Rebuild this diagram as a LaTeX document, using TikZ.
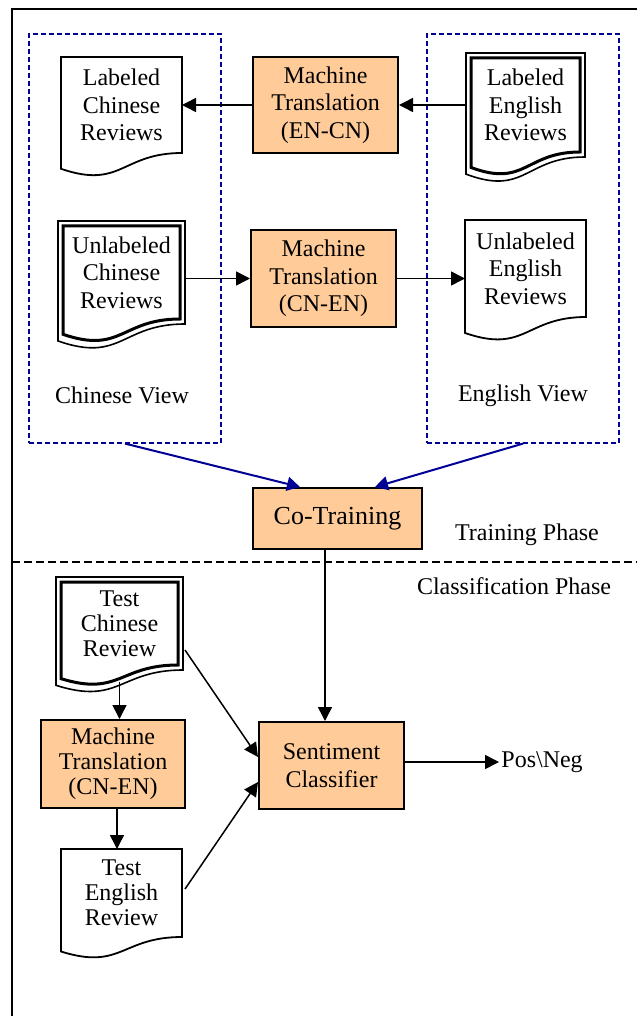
\documentclass[tikz,border=0pt]{standalone}
\usepackage{fontspec}
\setmainfont{Liberation Serif}
\usetikzlibrary{arrows.meta,calc}

\definecolor{boxfill}{RGB}{255,204,153}
\definecolor{viewblue}{RGB}{0,0,150}

% outline of a document sheet round a node, #2 = inset
\newcommand{\docline}[3]{%
  \draw[#3] let \p1=($(#1.north west)+(#2,#2)$), \p2=($(#1.south east)+(-#2,-#2)$),
      \n1={\y2-\y1} in
    (\p1) -- (\x2,\y1) -- (\p2)
    .. controls ({(\x1+\x2)/2},\y2) and ({(\x1+\x2)/2},{\y2+0.381*(\n1)}) .. (\x1,{\y2+0.1646*(\n1)})
    -- cycle;}

\tikzset{
  proc/.style={draw, line width=1pt, fill=boxfill, align=center, inner sep=0pt},
  doc/.style={align=center, inner sep=0pt, outer sep=0pt},
  tight/.style={font=\fontsize{12}{12.5}\selectfont},
  arr/.style={-{Triangle[length=7pt,width=7pt]}, line width=0.75pt},
  viewarr/.style={-{Triangle[length=6.5pt,width=7pt]}, line width=1pt, color=viewblue},
  viewbox/.style={draw=viewblue, dash pattern=on 2.5pt off 1.5pt, line width=0.6pt, inner sep=0pt},
  phaseline/.style={dash pattern=on 4pt off 2pt, line width=0.75pt},
}

\begin{document}
\begin{tikzpicture}[x=0.5pt, y=-0.5pt, font=\fontsize{12}{13.75}\selectfont]
  \useasboundingbox (0,0) rectangle (637,1016);

  \draw[line width=1pt] (637,9) -- (12,9) -- (12,1016);
  \draw[phaseline] (12,562) -- (637,562);

  % the two views
  \node[viewbox, minimum width=96pt, minimum height=204.5pt] (cnview) at (125,238.5) {};
  \node[viewbox, minimum width=96pt, minimum height=204.5pt] (enview) at (523,238.5) {};
  \node[anchor=base] (cnlabel) at (122,403) {Chinese View};
  \node[anchor=base] (enlabel) at (523,401) {English View};

  \node[doc, minimum width=60.5pt, minimum height=48pt] (labCN) at (121.5,105) {Labeled\\Chinese\\Reviews};
  \node[proc, minimum width=72.5pt, minimum height=48pt] (mtEC) at (325.5,105) {Machine\\Translation\\(EN-CN)};
  \node[doc, minimum width=59.5pt, minimum height=52pt] (labEN) at (525.5,105) {Labeled\\English\\Reviews};

  \node[doc, minimum width=63.5pt, minimum height=51.5pt] (unCN) at (121.5,272.5) {Unlabeled\\Chinese\\Reviews};
  \node[proc, minimum width=72.5pt, minimum height=48.5pt] (mtCE) at (323.5,278.5) {Machine\\Translation\\(CN-EN)};
  \node[doc, minimum width=60.5pt, minimum height=48.5pt] (unEN) at (525.5,268.5) {Unlabeled\\English\\Reviews};

  \node[proc, font=\fontsize{13}{15}\selectfont, minimum width=84.5pt, minimum height=30.5pt] (cotrain) at (337.5,518.5) {Co-Training};
  \node[anchor=base] (trainlabel) at (527,540.5) {Training Phase};
  \node[anchor=base] (classlabel) at (514,594) {Classification Phase};

  % classification part
  \node[doc, tight, minimum width=63.5pt, minimum height=46.5pt] (tstCN) at (119.5,623.5) {Test\\Chinese\\Review};
  \node[proc, tight, minimum width=72pt, minimum height=44pt] (mtCE2) at (113,764) {Machine\\Translation\\(CN-EN)};
  \node[doc, tight, minimum width=60.5pt, minimum height=44pt] (tstEN) at (121.5,893) {Test\\English\\Review};
  \node[proc, minimum width=72.5pt, minimum height=43.5pt] (sent) at (331.5,765.5) {Sentiment\\Classifier};
  \node[anchor=west, inner sep=1pt] (posneg) at (499,762) {Pos\textbackslash Neg};

  \docline{labCN}{0}{line width=0.9pt}
  \docline{unEN}{0}{line width=0.9pt}
  \docline{tstEN}{0}{line width=0.9pt}
  \docline{labEN}{0}{line width=0.8pt}
  \docline{labEN}{5}{line width=1.5pt}
  \docline{unCN}{0}{line width=0.8pt}
  \docline{unCN}{5}{line width=1.5pt}
  \docline{tstCN}{0}{line width=0.8pt}
  \docline{tstCN}{5}{line width=1.5pt}

  \draw[arr] (labEN) -- (mtEC);
  \draw[arr] (mtEC) -- (labCN);
  \draw[arr] (unCN.east |- mtCE) -- (mtCE);
  \draw[arr] (mtCE) -- (mtCE -| unEN.west);

  \draw[viewarr] (cnview.south) -- ($(cotrain.north)+(-37.5,0)$);
  \draw[viewarr] (enview.south) -- ($(cotrain.north)+(37.5,0)$);
  \draw[arr] ([xshift=-6.25pt]cotrain.south) -- ([xshift=-6.25pt]cotrain.south |- sent.north);
  \draw[arr] (sent.east |- posneg) -- (posneg.west);

  \coordinate (tstCNfoot) at ($(tstCN.south)+(0,12)$);
  \draw[arr] (tstCNfoot) -- (tstCNfoot |- mtCE2.north);
  \draw[arr] ([xshift=2pt]mtCE2.south) -- ([xshift=2pt]mtCE2.south |- tstEN.north);
  \draw[arr] ($(tstCN.east)+(2,26.5)$) -- ($(sent.west)+(0,-8.5)$);
  \draw[arr] ($(tstEN.east)+(3,-4)$) -- ($(sent.west)+(0,16.5)$);
\end{tikzpicture}
\end{document}
